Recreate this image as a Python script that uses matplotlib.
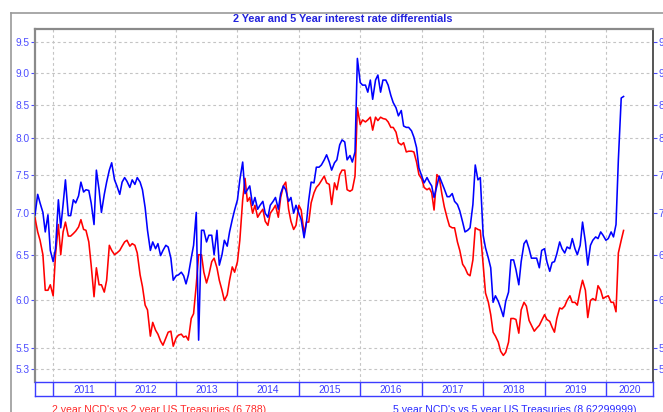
import matplotlib
matplotlib.use('Agg')
import matplotlib.pyplot as plt
from matplotlib.lines import Line2D
from matplotlib.ticker import FixedLocator, FixedFormatter, NullLocator
import pandas as pd
from datetime import datetime

plt.rcParams['font.family'] = ['Liberation Sans', 'DejaVu Sans']

# ---------------- data (semi-monthly readings) ----------------
dates = pd.date_range('2010-09-15', periods=231, freq='SMS')

five_year = [
    6.98, 7.24, 7.13, 7.01, 6.77, 6.98, 6.55, 6.42, 6.57, 7.17,
    6.82, 7.11, 7.43, 6.97, 6.97, 7.17, 7.13, 7.22, 7.40, 7.27,
    7.30, 7.29, 7.13, 6.86, 7.56, 7.30, 7.01, 7.24, 7.40, 7.56,
    7.66, 7.43, 7.35, 7.24, 7.40, 7.46, 7.41, 7.33, 7.43, 7.37,
    7.46, 7.40, 7.30, 7.07, 6.79, 6.55, 6.65, 6.57, 6.63, 6.49,
    6.55, 6.61, 6.59, 6.46, 6.21, 6.26, 6.27, 6.30, 6.26, 6.17,
    6.27, 6.46, 6.61, 7.01, 5.58, 6.79, 6.79, 6.65, 6.73, 6.73,
    6.50, 6.79, 6.38, 6.50, 6.67, 6.60, 6.77, 6.92, 7.04, 7.17,
    7.43, 7.67, 7.25, 7.30, 7.35, 7.10, 7.20, 7.05, 7.10, 7.15,
    7.00, 6.95, 7.10, 7.15, 7.20, 7.05, 7.25, 7.35, 7.30, 7.15,
    7.20, 7.00, 7.10, 7.00, 6.92, 6.70, 6.88, 7.17, 7.40, 7.39,
    7.60, 7.60, 7.63, 7.70, 7.77, 7.67, 7.56, 7.66, 7.70, 7.91,
    7.98, 7.95, 7.70, 7.76, 7.67, 7.81, 9.23, 8.84, 8.80, 8.80,
    8.69, 8.88, 8.58, 8.88, 8.96, 8.69, 8.88, 8.88, 8.80, 8.64,
    8.53, 8.45, 8.33, 8.41, 8.18, 8.16, 8.16, 8.11, 8.02, 7.87,
    7.59, 7.48, 7.39, 7.46, 7.40, 7.35, 7.20, 7.35, 7.48, 7.39,
    7.31, 7.21, 7.21, 7.25, 7.15, 7.11, 7.03, 6.89, 6.77, 6.79,
    6.82, 7.11, 7.63, 7.43, 7.46, 6.73, 6.58, 6.46, 6.35, 5.97,
    6.04, 5.98, 5.91, 5.82, 5.98, 6.08, 6.44, 6.44, 6.33, 6.16,
    6.42, 6.63, 6.67, 6.57, 6.46, 6.46, 6.46, 6.35, 6.55, 6.57,
    6.42, 6.31, 6.41, 6.42, 6.51, 6.65, 6.57, 6.52, 6.59, 6.57,
    6.69, 6.57, 6.50, 6.61, 6.89, 6.65, 6.38, 6.61, 6.67, 6.71,
    6.69, 6.77, 6.73, 6.67, 6.69, 6.77, 6.71, 6.86, 7.70, 8.60, 8.62299999,
]

two_year = [
    6.94, 6.77, 6.67, 6.50, 6.10, 6.10, 6.16, 6.04, 6.50, 6.86,
    6.50, 6.77, 6.89, 6.72, 6.72, 6.75, 6.78, 6.83, 6.92, 6.80,
    6.79, 6.65, 6.38, 6.03, 6.35, 6.16, 6.16, 6.08, 6.21, 6.61,
    6.55, 6.50, 6.52, 6.55, 6.60, 6.65, 6.67, 6.60, 6.63, 6.61,
    6.52, 6.27, 6.14, 5.94, 5.89, 5.62, 5.76, 5.68, 5.64, 5.57,
    5.53, 5.60, 5.66, 5.67, 5.52, 5.60, 5.63, 5.64, 5.61, 5.62,
    5.58, 5.80, 5.85, 6.16, 6.50, 6.50, 6.30, 6.18, 6.27, 6.42,
    6.46, 6.35, 6.21, 6.10, 5.99, 6.05, 6.21, 6.36, 6.30, 6.42,
    6.67, 7.17, 7.45, 7.15, 7.20, 7.00, 7.10, 6.95, 7.00, 7.05,
    6.90, 6.85, 7.00, 7.05, 7.10, 6.95, 7.20, 7.35, 7.40, 7.05,
    6.90, 6.80, 6.85, 7.10, 7.04, 6.75, 6.89, 6.89, 7.13, 7.26,
    7.33, 7.37, 7.42, 7.48, 7.39, 7.37, 7.11, 7.39, 7.30, 7.50,
    7.56, 7.56, 7.30, 7.28, 7.30, 7.48, 8.45, 8.20, 8.27, 8.24,
    8.27, 8.31, 8.12, 8.31, 8.26, 8.31, 8.29, 8.28, 8.24, 8.16,
    8.16, 8.09, 7.94, 7.91, 7.94, 7.81, 7.82, 7.82, 7.81, 7.67,
    7.50, 7.44, 7.33, 7.30, 7.32, 7.26, 7.04, 7.50, 7.46, 7.24,
    7.08, 6.94, 6.84, 6.82, 6.82, 6.65, 6.55, 6.39, 6.35, 6.28,
    6.26, 6.44, 6.82, 6.80, 6.79, 6.38, 6.07, 5.97, 5.84, 5.66,
    5.62, 5.56, 5.47, 5.43, 5.46, 5.56, 5.80, 5.80, 5.79, 5.65,
    5.89, 5.97, 5.93, 5.78, 5.73, 5.67, 5.70, 5.73, 5.78, 5.84,
    5.79, 5.77, 5.71, 5.66, 5.80, 5.91, 5.90, 5.93, 5.99, 6.04,
    5.97, 5.97, 5.94, 6.10, 6.21, 6.10, 5.81, 5.99, 6.01, 5.99,
    6.15, 6.10, 6.01, 6.03, 6.04, 5.97, 5.97, 5.87, 6.52, 6.67, 6.788,
]

y_ticks = [5.3, 5.5, 6.0, 6.5, 7.0, 7.5, 8.0, 8.5, 9.0, 9.5]
years = [2011, 2012, 2013, 2014, 2015, 2016, 2017, 2018, 2019, 2020]
title = "2 Year and 5 Year interest rate differentials"
label_two = "2 year NCD's vs 2 year US Treasuries (6.788)"
label_five = "5 year NCD's vs 5 year US Treasuries (8.62299999)"

# ---------------- figure ----------------
W, H = 663, 412
fig = plt.figure(figsize=(W / 100, H / 100), dpi=100)
fig.patch.set_facecolor('white')

def fx(px):
    return px / W

def fy(py):
    return (H - py) / H

# outer frame
frame_col = '#9a9a9a'
fig.add_artist(Line2D([fx(11), fx(700)], [fy(13), fy(13)], color=frame_col, lw=1.2))
fig.add_artist(Line2D([fx(11), fx(11)], [fy(13), fy(450)], color=frame_col, lw=1.2))

x0, x1, ytop, ybot = 35, 653, 29, 382
ax = fig.add_axes([fx(x0), fy(ybot), fx(x1 - x0), (ybot - ytop) / H])
band = fig.add_axes([fx(x0), fy(396), fx(x1 - x0), (396 - ybot) / H])

xmin = datetime(2010, 9, 15)
xmax = datetime(2020, 10, 7)

ax.plot(dates, two_year, color='#ff0000', lw=1.15, zorder=3)
ax.plot(dates, five_year, color='#0000ff', lw=1.15, zorder=4)

ax.set_yscale('log')
ax.set_ylim(5.178, 9.728)
ax.set_xlim(xmin, xmax)

ax.yaxis.set_major_locator(FixedLocator(y_ticks))
ax.yaxis.set_major_formatter(FixedFormatter([f"{t:.1f}" for t in y_ticks]))
ax.yaxis.set_minor_locator(NullLocator())

year_starts = [datetime(y, 1, 1) for y in years]
ax.set_xticks(year_starts)
ax.set_xticklabels([])
ax.tick_params(axis='x', length=0)

tick_col = '#4c4cff'
ax.tick_params(axis='y', which='major', direction='out', length=3, width=0.8,
               colors=tick_col, labelsize=7.3, pad=1,
               left=True, right=True, labelleft=True, labelright=True)

ax.grid(True, which='major', color='#c4c4c4', linestyle=(0, (2.5, 2.5)), lw=0.8)
ax.set_axisbelow(True)

for side in ['top', 'left']:
    ax.spines[side].set_color('#8a8a8a')
    ax.spines[side].set_linewidth(1.6)
ax.spines['right'].set_color('#555555')
ax.spines['right'].set_linewidth(1.4)
ax.spines['bottom'].set_visible(False)

# year band
band_col = '#3c3cff'
band.set_xlim(xmin, xmax)
band.set_ylim(0, 1)
band.set_xticks([])
band.set_yticks([])
for s in band.spines.values():
    s.set_color(band_col)
    s.set_linewidth(1.0)
for ys in year_starts:
    band.axvline(ys, color=band_col, lw=1.0)
for y in years:
    a = max(datetime(y, 1, 1), xmin)
    b = min(datetime(y + 1, 1, 1), xmax)
    mid = a + (b - a) / 2
    band.text(mid, 0.45, str(y), ha='center', va='center', color=band_col, fontsize=7.3)

# title and legend texts
fig.text(fx(343), fy(19), title, ha='center', va='center', color='#2222dd',
         fontweight='bold', fontsize=7.8)
fig.text(fx(52), fy(405), label_two, ha='left', va='top', color='#ff2a2a', fontsize=7.6)
fig.text(fx(393), fy(405), label_five, ha='left', va='top', color='#2a2aff', fontsize=7.6)

fig.savefig('out.png', dpi=100, facecolor='white')
